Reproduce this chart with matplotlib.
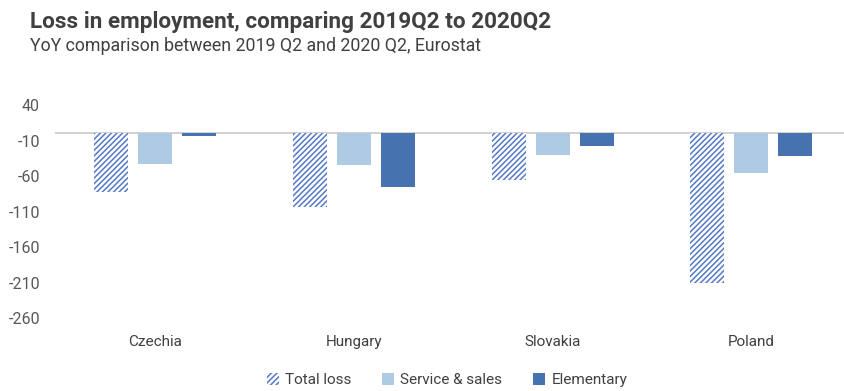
import matplotlib
matplotlib.use("Agg")
import matplotlib.pyplot as plt
import numpy as np

plt.rcParams['font.family'] = ['Roboto', 'DejaVu Sans']

categories = ["Czechia", "Hungary", "Slovakia", "Poland"]
total_loss = [-83, -104, -65, -211]
service_sales = [-43, -44, -30, -55]
elementary = [-3, -76, -17, -32]
yticks = [40, -10, -60, -110, -160, -210, -260]

W, H = 844, 391
fig = plt.figure(figsize=(W / 100, H / 100), dpi=100)
ax = fig.add_axes([55.3 / W, 72.7 / H, (844 - 55.3) / W, 213.3 / H])

x = np.arange(len(categories))
bw = 0.171
off = 0.221
light = "#aecbe3"
dark = "#4673b0"

plt.rcParams['hatch.linewidth'] = 1.1
ax.bar(x - off, total_loss, bw, facecolor="white", edgecolor="#5479c6",
       hatch="//////", linewidth=0, label="Total loss")
ax.bar(x, service_sales, bw, color=light, label="Service & sales")
ax.bar(x + off, elementary, bw, color=dark, label="Elementary")

ax.axhline(0, color="#c8c8c8", lw=1.2, zorder=0.5)
ax.set_xlim(-0.5, -0.5 + (844 - 55.3) / 198.9)
ax.set_ylim(-260, 40)
ax.set_yticks(yticks)
ax.set_yticklabels([str(t) for t in yticks], fontsize=11.5, color="#595959")
ax.set_xticks(x)
ax.set_xticklabels(categories, fontsize=11, color="#404040")
ax.tick_params(axis='both', length=0)
ax.tick_params(axis='x', pad=12)
ax.tick_params(axis='y', pad=11)
for s in ax.spines.values():
    s.set_visible(False)

fig.text(30 / W, 1 - 22 / H, "Loss in employment, comparing 2019Q2 to 2020Q2",
         fontsize=16.2, fontweight="bold", color="#404040", va="center", ha="left")
fig.text(30 / W, 1 - 46 / H, "YoY comparison between 2019 Q2 and 2020 Q2, Eurostat",
         fontsize=12.8, color="#404040", va="center", ha="left")

leg = fig.legend(loc="center", bbox_to_anchor=(447 / W, 1 - 380 / H), ncol=3,
                 frameon=False, fontsize=11, handlelength=0.8, handleheight=0.8,
                 handletextpad=0.4, columnspacing=2.0, labelcolor="#404040")

fig.savefig("out.png", dpi=100)
